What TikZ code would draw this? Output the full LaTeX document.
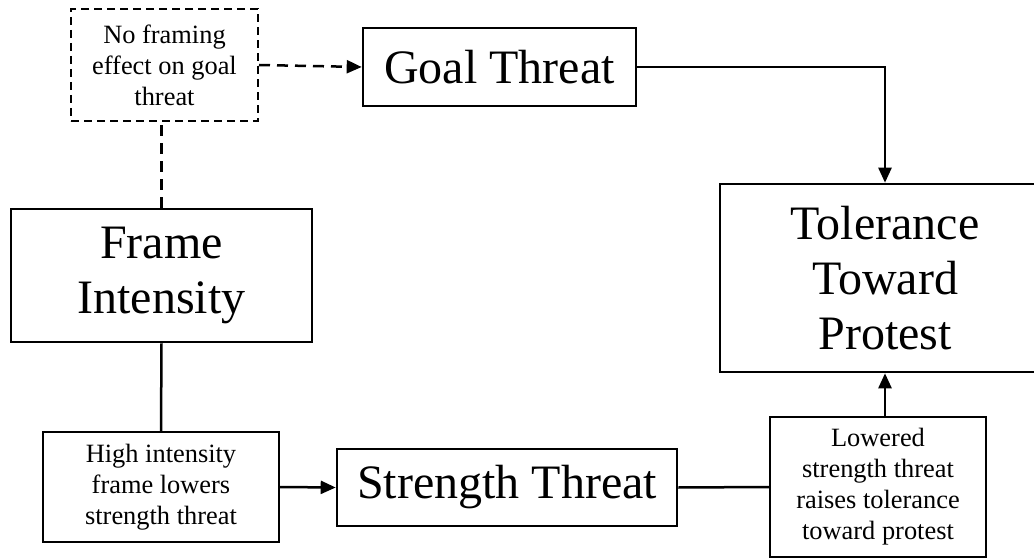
\documentclass[tikz,border=0pt]{standalone}
\usepackage{fontspec}
\setmainfont{Liberation Serif}
\usetikzlibrary{arrows.meta}
\begin{document}
\begin{tikzpicture}[x=1pt,y=-1pt,
  bigbox/.style={draw, line width=2.6pt, rectangle, inner sep=0pt, align=center,
    font=\fontsize{48}{55}\selectfont},
  smallbox/.style={draw, line width=2pt, rectangle, inner sep=0pt, align=center,
    font=\fontsize{26.4}{31}\selectfont},
  dashbox/.style={smallbox, dash pattern=on 8pt off 5pt},
  conn/.style={line width=2.5pt},
  tip/.style={-{Triangle[length=15pt,width=13pt]}},
  dashconn/.style={conn, dash pattern=on 11pt off 7pt}
]
\useasboundingbox (0,0) rectangle (1034,559);
\clip (0,0) rectangle (1034,559);
\node[dashbox, minimum width=187pt, minimum height=112pt] (nofx) at (164.5,65) {No framing\\effect on goal\\threat};
\node[bigbox, minimum width=273pt, minimum height=78pt] (goal) at (499.5,67) {Goal Threat};
\node[bigbox, minimum width=301pt, minimum height=133pt] (frame) at (161.5,275.5) {Frame\\Intensity};
\node[bigbox, minimum width=330pt, minimum height=188pt] (tol) at (885,278) {Tolerance\\Toward\\Protest};
\node[smallbox, minimum width=236pt, minimum height=110pt] (high) at (161,487) {High intensity\\frame lowers\\strength threat};
\node[bigbox, minimum width=340pt, minimum height=77pt] (strength) at (507,487.5) {Strength Threat};
\node[smallbox, minimum width=216pt, minimum height=140pt] (lowered) at (878,487) {Lowered\\strength threat\\raises tolerance\\toward protest};

\draw[dashconn, tip] (nofx.east) -- (goal.west);
\draw[dashconn] (frame.north) -- (frame.north |- nofx.south);
\draw[conn, tip] (goal.east) -| (tol.north);
\draw[conn] (frame.south) -- (high.north);
\draw[conn, tip] (high.east) -- (strength.west);
\draw[conn] (strength.east) -- (lowered.west);
\draw[conn, tip] (tol.south |- lowered.north) -- (tol.south);
\end{tikzpicture}
\end{document}
